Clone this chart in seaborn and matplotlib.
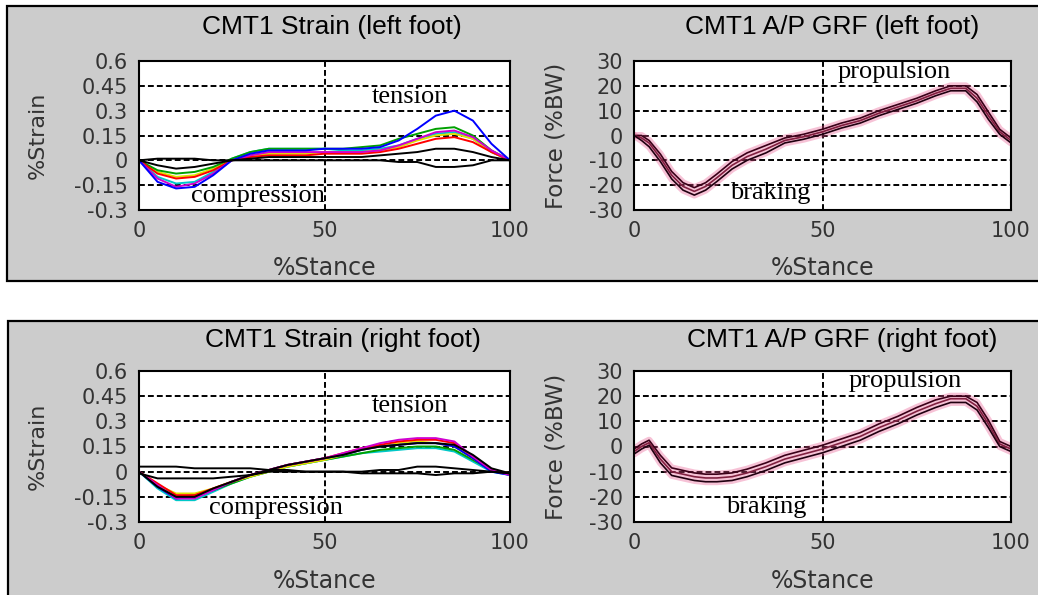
import seaborn as sns
import matplotlib
matplotlib.use('Agg')
import matplotlib.pyplot as plt
from matplotlib.patches import Rectangle

# data
stance = [0, 5, 10, 15, 20, 25, 30, 35, 40, 45, 50, 55, 60, 65, 70, 75, 80, 85, 90, 95, 100]

# left foot strain trials (MATLAB colour order)
left_blue = [0, -0.13, -0.17, -0.16, -0.09, 0.00, 0.04, 0.06, 0.06, 0.06, 0.07, 0.07, 0.07, 0.08, 0.12, 0.19, 0.27, 0.30, 0.24, 0.10, 0.00]
left_green = [0, -0.06, -0.08, -0.07, -0.04, 0.01, 0.05, 0.07, 0.07, 0.07, 0.07, 0.07, 0.08, 0.09, 0.13, 0.16, 0.19, 0.20, 0.15, 0.06, 0.00]
left_red = [0, -0.08, -0.11, -0.10, -0.06, 0.00, 0.02, 0.03, 0.03, 0.03, 0.04, 0.04, 0.04, 0.05, 0.07, 0.10, 0.13, 0.14, 0.11, 0.05, 0.00]
left_cyan = [0, -0.10, -0.14, -0.13, -0.07, 0.01, 0.05, 0.07, 0.07, 0.07, 0.07, 0.06, 0.06, 0.07, 0.09, 0.13, 0.16, 0.17, 0.13, 0.05, 0.00]
left_magenta = [0, -0.11, -0.16, -0.14, -0.08, 0.00, 0.03, 0.05, 0.05, 0.05, 0.05, 0.05, 0.05, 0.06, 0.09, 0.13, 0.17, 0.18, 0.14, 0.06, 0.00]
left_yellow = [0, -0.07, -0.10, -0.09, -0.05, 0.00, 0.03, 0.04, 0.04, 0.04, 0.05, 0.05, 0.05, 0.06, 0.08, 0.12, 0.15, 0.16, 0.13, 0.05, 0.00]
left_black = [0, -0.03, -0.05, -0.04, -0.02, 0.00, 0.01, 0.02, 0.02, 0.02, 0.02, 0.02, 0.02, 0.03, 0.04, 0.05, 0.07, 0.07, 0.05, 0.02, 0.00]
left_black2 = [0, 0.01, 0.01, 0.01, 0.00, 0.00, 0.00, 0.00, 0.00, 0.00, 0.00, 0.00, 0.00, 0.00, -0.01, -0.01, -0.04, -0.04, -0.03, 0.00, 0.00]

# right foot strain trials
right_blue = [0, -0.09, -0.16, -0.15, -0.11, -0.06, -0.02, 0.01, 0.04, 0.06, 0.08, 0.10, 0.13, 0.15, 0.16, 0.17, 0.17, 0.15, 0.08, 0.00, -0.02]
right_green = [0, -0.09, -0.15, -0.14, -0.11, -0.07, -0.03, 0.00, 0.03, 0.05, 0.07, 0.09, 0.11, 0.13, 0.14, 0.15, 0.15, 0.13, 0.07, 0.01, -0.02]
right_red = [0, -0.07, -0.14, -0.14, -0.10, -0.06, -0.02, 0.01, 0.04, 0.06, 0.08, 0.11, 0.14, 0.16, 0.18, 0.19, 0.19, 0.17, 0.09, 0.01, -0.01]
right_cyan = [0, -0.10, -0.17, -0.17, -0.12, -0.07, -0.03, 0.00, 0.03, 0.05, 0.07, 0.09, 0.11, 0.12, 0.13, 0.14, 0.14, 0.12, 0.06, 0.00, -0.02]
right_magenta = [0, -0.08, -0.16, -0.16, -0.11, -0.06, -0.02, 0.01, 0.04, 0.06, 0.08, 0.11, 0.14, 0.17, 0.19, 0.20, 0.20, 0.18, 0.09, 0.01, -0.02]
right_yellow = [0, -0.08, -0.13, -0.13, -0.10, -0.06, -0.03, 0.00, 0.03, 0.05, 0.07, 0.10, 0.13, 0.15, 0.17, 0.18, 0.17, 0.15, 0.08, 0.01, -0.01]
right_black = [0, -0.09, -0.15, -0.15, -0.10, -0.06, -0.02, 0.01, 0.04, 0.06, 0.08, 0.10, 0.13, 0.15, 0.16, 0.17, 0.17, 0.16, 0.10, 0.02, -0.01]
right_black2 = [0.03, 0.03, 0.03, 0.02, 0.02, 0.02, 0.02, 0.01, 0.01, 0.00, 0.00, 0.00, 0.00, 0.01, 0.01, 0.03, 0.03, 0.02, 0.01, 0.00, -0.01]
right_black3 = [-0.01, -0.04, -0.04, -0.04, -0.04, -0.03, -0.02, 0.00, 0.00, 0.00, 0.00, 0.00, -0.01, -0.01, -0.01, -0.01, -0.02, -0.01, -0.01, 0.00, -0.01]

# A/P ground reaction force (%BW)
stance_grf = [0, 2, 4, 7, 10, 13, 16, 19, 22, 26, 30, 35, 40, 45, 50, 55, 60, 65, 70, 75, 80, 84, 88, 91, 94, 97, 100]
grf_left_mid = [0, -1, -3, -9, -16, -20.5, -22.5, -20.5, -17, -12, -8.5, -5.5, -2, -0.5, 1.5, 4, 6, 9, 11.5, 14, 17, 19, 19, 15, 8, 1.5, -2]
grf_left_hi = [0, 0, -2, -7.5, -14.5, -19, -21, -19, -15.5, -10.5, -7, -4, -1, 0.5, 2.5, 5, 7, 10, 12.5, 15, 18, 20, 20, 16.5, 9.5, 2.5, -1]
grf_left_lo = [0, -2, -4.5, -10.5, -17.5, -22, -24, -22, -18.5, -13.5, -10, -7, -3, -1.5, 0.5, 3, 5, 8, 10.5, 13, 16, 18, 18, 13.5, 6.5, 0.5, -3]
grf_right_mid = [-2, 0, 1.5, -5, -10, -11, -12, -12.5, -12.5, -12, -10.5, -8, -5, -3, -1, 1.5, 4, 7.5, 10.5, 14, 17, 19, 19, 16, 9, 1, -1]
grf_right_hi = [-1, 1, 2.5, -3.5, -8.5, -9.5, -10.5, -11, -11, -10.5, -9, -6.5, -3.5, -1.5, 0.5, 3, 5.5, 9, 12, 15.5, 18.5, 20, 20, 17.5, 10.5, 2, 0]
grf_right_lo = [-3, -1, 0.5, -6.5, -11.5, -12.5, -13.5, -14, -14, -13.5, -12, -9.5, -6.5, -4.5, -2.5, 0, 2.5, 6, 9, 12.5, 15.5, 17.5, 17.5, 14.5, 7.5, 0, -2]

strain_ticks = [-0.3, -0.15, 0, 0.15, 0.3, 0.45, 0.6]
strain_labels = ['-0.3', '-0.15', '0', '0.15', '0.3', '0.45', '0.6']
grf_ticks = [-30, -20, -10, 0, 10, 20, 30]
x_ticks = [0, 50, 100]

matlab = {'b': '#0000ff', 'g': '#00a000', 'r': '#ff0000', 'c': '#00c8c8',
          'm': '#d000d0', 'y': '#e0e000', 'k': '#000000'}

sns.set_theme(style='white')
plt.rcParams['font.family'] = ['DejaVu Sans']

W, H = 1038, 595
fig = plt.figure(figsize=(W / 100, H / 100), dpi=100)
fig.patch.set_facecolor('white')


def fx(x):
    return x / W


def fy(y):
    return 1 - y / H


# grey panel boxes
fig.patches.append(Rectangle((fx(7), fy(281)), fx(1060), 275 / H, transform=fig.transFigure,
                             facecolor='#cccccc', edgecolor='black', lw=1.6, zorder=-5))
fig.patches.append(Rectangle((fx(8), fy(640)), fx(1060), (640 - 321) / H, transform=fig.transFigure,
                             facecolor='#cccccc', edgecolor='black', lw=1.6, zorder=-5))


def make_axes(l, r, t, b):
    ax = fig.add_axes([fx(l), fy(b), (r - l) / W, (b - t) / H])
    ax.set_zorder(2)
    ax.set_facecolor('white')
    for s in ax.spines.values():
        s.set_color('black')
        s.set_linewidth(1.5)
    ax.set_axisbelow(True)
    ax.grid(True, color='black', lw=1.4, ls=(0, (3, 1.6)))
    ax.tick_params(length=0, labelsize=15, labelcolor='#333333', pad=8)
    ax.set_xlim(0, 100)
    ax.set_xticks(x_ticks)
    ax.set_xticklabels(['0', '50', '100'])
    ax.set_xlabel('%Stance', fontsize=17, color='#333333')
    ax.xaxis.set_label_coords(0.5, -0.31)
    return ax


def strain_panel(ax, series):
    ax.set_ylim(-0.3, 0.6)
    ax.set_yticks(strain_ticks)
    ax.set_yticklabels(strain_labels)
    for key, vals in series:
        sns.lineplot(x=stance, y=vals, ax=ax, color=matlab[key], lw=1.4, estimator=None)
    ax.set_ylabel('%Strain', fontsize=16, color='#333333', va='center')
    ax.yaxis.set_label_coords(-0.272, 0.5)


def grf_panel(ax, hi, mid, lo):
    ax.set_ylim(-30, 30)
    ax.set_yticks(grf_ticks)
    ax.set_yticklabels([str(t) for t in grf_ticks])
    # pink spread behind the trial curves
    for vals in (hi, lo):
        sns.lineplot(x=stance_grf, y=vals, ax=ax, color='#e8508a', lw=5, alpha=0.35, estimator=None)
    sns.lineplot(x=stance_grf, y=hi, ax=ax, color='#3a0018', lw=1.2, estimator=None)
    sns.lineplot(x=stance_grf, y=mid, ax=ax, color='#802040', lw=1.2, estimator=None)
    sns.lineplot(x=stance_grf, y=lo, ax=ax, color='#200010', lw=1.2, estimator=None)
    ax.set_ylabel('Force (%BW)', fontsize=16.5, color='#333333', va='center')
    ax.yaxis.set_label_coords(-0.207, 0.5)


serif = dict(family='Liberation Serif', fontsize=19, color='black', ha='center', va='center')

ax1 = make_axes(139, 510, 61, 210)
strain_panel(ax1, [('c', left_cyan), ('y', left_yellow), ('g', left_green), ('r', left_red),
                   ('m', left_magenta), ('b', left_blue), ('k', left_black), ('k', left_black2)])
ax1.text(73, 0.385, 'tension', **serif)
ax1.text(32, -0.215, 'compression', **serif)

ax2 = make_axes(634, 1011, 61, 210)
grf_panel(ax2, grf_left_hi, grf_left_mid, grf_left_lo)
ax2.text(69, 25.5, 'propulsion', **serif)
ax2.text(36, -23, 'braking', **serif)

ax3 = make_axes(139, 510, 371, 522)
strain_panel(ax3, [('c', right_cyan), ('g', right_green), ('y', right_yellow), ('b', right_blue),
                   ('r', right_red), ('m', right_magenta), ('k', right_black),
                   ('k', right_black2), ('k', right_black3)])
ax3.text(73, 0.39, 'tension', **serif)
ax3.text(37, -0.217, 'compression', **serif)

ax4 = make_axes(634, 1011, 371, 522)
grf_panel(ax4, grf_right_hi, grf_right_mid, grf_right_lo)
ax4.text(72, 26, 'propulsion', **serif)
ax4.text(35, -24, 'braking', **serif)

title = dict(fontsize=19, color='black', ha='center', va='center', family='Liberation Sans')
fig.text(fx(332), fy(27), 'CMT1 Strain (left foot)', **title)
fig.text(fx(832), fy(27), 'CMT1 A/P GRF (left foot)', **title)
fig.text(fx(343), fy(340), 'CMT1 Strain (right foot)', **title)
fig.text(fx(842), fy(340), 'CMT1 A/P GRF (right foot)', **title)

fig.savefig('out.png', dpi=100)
